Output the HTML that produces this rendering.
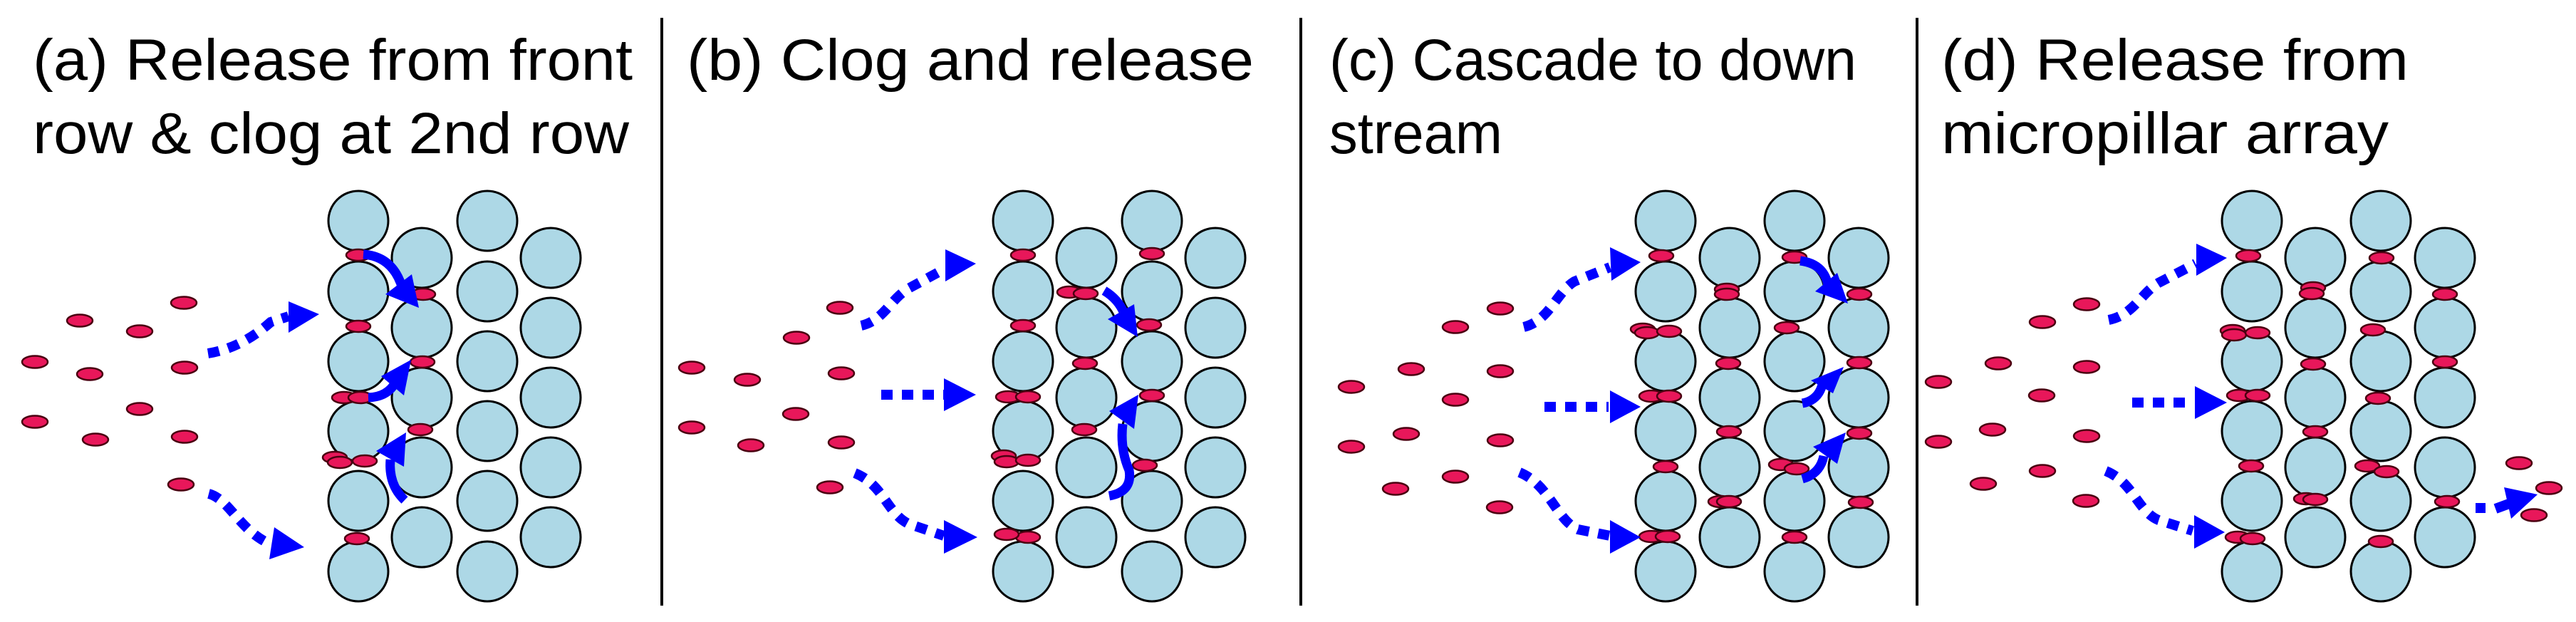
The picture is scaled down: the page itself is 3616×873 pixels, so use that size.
<!DOCTYPE html>
<html><head><meta charset="utf-8"><style>
html,body{margin:0;padding:0;background:#fff;}
svg{display:block;}
.t{font-family:"Liberation Sans",Arial,sans-serif;font-size:82px;fill:#000;}
.c{fill:#add8e6;stroke:#000;stroke-width:3;}
.p{fill:#e8175a;stroke:#4a0010;stroke-width:2.5;}
.d{fill:none;stroke:#0000ff;stroke-width:14;stroke-dasharray:16 13;}
.s{fill:none;stroke:#0000ff;stroke-width:13;}
.h{fill:#0000ff;}
</style></head><body>
<svg width="3616" height="873" viewBox="0 0 3616 873" xmlns="http://www.w3.org/2000/svg">
<rect width="3616" height="873" fill="#fff"/>
<text class="t" x="46" y="112" textLength="842" lengthAdjust="spacingAndGlyphs">(a) Release from front</text>
<text class="t" x="46" y="215" textLength="837" lengthAdjust="spacingAndGlyphs">row &amp; clog at 2nd row</text>
<text class="t" x="964" y="112" textLength="796" lengthAdjust="spacingAndGlyphs">(b) Clog and release</text>
<text class="t" x="1866" y="112" textLength="740" lengthAdjust="spacingAndGlyphs">(c) Cascade to down</text>
<text class="t" x="1866" y="215" textLength="243" lengthAdjust="spacingAndGlyphs">stream</text>
<text class="t" x="2725" y="112" textLength="656" lengthAdjust="spacingAndGlyphs">(d) Release from</text>
<text class="t" x="2725" y="215" textLength="628" lengthAdjust="spacingAndGlyphs">micropillar array</text>
<rect x="927" y="25" width="4" height="825" fill="#000"/>
<rect x="1824" y="25" width="4" height="825" fill="#000"/>
<rect x="2689" y="25" width="4" height="825" fill="#000"/>

<g class="c">
<circle cx="503" cy="310" r="42"/><circle cx="503" cy="409" r="42"/><circle cx="503" cy="507" r="42"/><circle cx="503" cy="605" r="42"/><circle cx="503" cy="703" r="42"/><circle cx="503" cy="802" r="42"/>
<circle cx="592" cy="362" r="42"/><circle cx="592" cy="460" r="42"/><circle cx="592" cy="558" r="42"/><circle cx="592" cy="656" r="42"/><circle cx="592" cy="754" r="42"/>
<circle cx="684" cy="310" r="42"/><circle cx="684" cy="409" r="42"/><circle cx="684" cy="507" r="42"/><circle cx="684" cy="605" r="42"/><circle cx="684" cy="703" r="42"/><circle cx="684" cy="802" r="42"/>
<circle cx="773" cy="362" r="42"/><circle cx="773" cy="460" r="42"/><circle cx="773" cy="558" r="42"/><circle cx="773" cy="656" r="42"/><circle cx="773" cy="754" r="42"/>
</g>
<g class="c">
<circle cx="1436" cy="310" r="42"/><circle cx="1436" cy="409" r="42"/><circle cx="1436" cy="507" r="42"/><circle cx="1436" cy="605" r="42"/><circle cx="1436" cy="703" r="42"/><circle cx="1436" cy="802" r="42"/>
<circle cx="1525" cy="362" r="42"/><circle cx="1525" cy="460" r="42"/><circle cx="1525" cy="558" r="42"/><circle cx="1525" cy="656" r="42"/><circle cx="1525" cy="754" r="42"/>
<circle cx="1617" cy="310" r="42"/><circle cx="1617" cy="409" r="42"/><circle cx="1617" cy="507" r="42"/><circle cx="1617" cy="605" r="42"/><circle cx="1617" cy="703" r="42"/><circle cx="1617" cy="802" r="42"/>
<circle cx="1706" cy="362" r="42"/><circle cx="1706" cy="460" r="42"/><circle cx="1706" cy="558" r="42"/><circle cx="1706" cy="656" r="42"/><circle cx="1706" cy="754" r="42"/>
</g>
<g class="c">
<circle cx="2338" cy="310" r="42"/><circle cx="2338" cy="409" r="42"/><circle cx="2338" cy="507" r="42"/><circle cx="2338" cy="605" r="42"/><circle cx="2338" cy="703" r="42"/><circle cx="2338" cy="802" r="42"/>
<circle cx="2428" cy="362" r="42"/><circle cx="2428" cy="460" r="42"/><circle cx="2428" cy="558" r="42"/><circle cx="2428" cy="656" r="42"/><circle cx="2428" cy="754" r="42"/>
<circle cx="2519" cy="310" r="42"/><circle cx="2519" cy="409" r="42"/><circle cx="2519" cy="507" r="42"/><circle cx="2519" cy="605" r="42"/><circle cx="2519" cy="703" r="42"/><circle cx="2519" cy="802" r="42"/>
<circle cx="2609" cy="362" r="42"/><circle cx="2609" cy="460" r="42"/><circle cx="2609" cy="558" r="42"/><circle cx="2609" cy="656" r="42"/><circle cx="2609" cy="754" r="42"/>
</g>
<g class="c">
<circle cx="3161" cy="310" r="42"/><circle cx="3161" cy="409" r="42"/><circle cx="3161" cy="507" r="42"/><circle cx="3161" cy="605" r="42"/><circle cx="3161" cy="703" r="42"/><circle cx="3161" cy="802" r="42"/>
<circle cx="3250" cy="362" r="42"/><circle cx="3250" cy="460" r="42"/><circle cx="3250" cy="558" r="42"/><circle cx="3250" cy="656" r="42"/><circle cx="3250" cy="754" r="42"/>
<circle cx="3342" cy="310" r="42"/><circle cx="3342" cy="409" r="42"/><circle cx="3342" cy="507" r="42"/><circle cx="3342" cy="605" r="42"/><circle cx="3342" cy="703" r="42"/><circle cx="3342" cy="802" r="42"/>
<circle cx="3432" cy="362" r="42"/><circle cx="3432" cy="460" r="42"/><circle cx="3432" cy="558" r="42"/><circle cx="3432" cy="656" r="42"/><circle cx="3432" cy="754" r="42"/>
</g>

<g class="p">
<ellipse cx="258" cy="425" rx="18" ry="8.5"/><ellipse cx="112" cy="450" rx="18" ry="8.5"/><ellipse cx="196" cy="465" rx="18" ry="8.5"/>
<ellipse cx="49" cy="508" rx="18" ry="8.5"/><ellipse cx="126" cy="525" rx="18" ry="8.5"/><ellipse cx="259" cy="516" rx="18" ry="8.5"/>
<ellipse cx="196" cy="574" rx="18" ry="8.5"/><ellipse cx="49" cy="592" rx="18" ry="8.5"/><ellipse cx="134" cy="617" rx="18" ry="8.5"/>
<ellipse cx="259" cy="613" rx="18" ry="8.5"/><ellipse cx="254" cy="680" rx="18" ry="8.5"/>
<ellipse cx="503" cy="358" rx="17" ry="8"/><ellipse cx="594" cy="413" rx="17" ry="8"/><ellipse cx="503" cy="458" rx="17" ry="8"/>
<ellipse cx="593" cy="508" rx="17" ry="8"/><ellipse cx="483" cy="558" rx="17" ry="8"/><ellipse cx="506" cy="558" rx="17" ry="8"/>
<ellipse cx="590" cy="603" rx="17" ry="8"/><ellipse cx="470" cy="642" rx="17" ry="8"/><ellipse cx="477" cy="649" rx="17" ry="8"/>
<ellipse cx="512" cy="647" rx="17" ry="8"/><ellipse cx="501" cy="756" rx="17" ry="8"/>
<ellipse cx="1179" cy="432" rx="18" ry="8.5"/><ellipse cx="1118" cy="474" rx="18" ry="8.5"/><ellipse cx="971" cy="516" rx="18" ry="8.5"/>
<ellipse cx="1049" cy="533" rx="18" ry="8.5"/><ellipse cx="1181" cy="524" rx="18" ry="8.5"/><ellipse cx="1117" cy="581" rx="18" ry="8.5"/>
<ellipse cx="971" cy="600" rx="18" ry="8.5"/><ellipse cx="1054" cy="625" rx="18" ry="8.5"/><ellipse cx="1181" cy="621" rx="18" ry="8.5"/>
<ellipse cx="1165" cy="684" rx="18" ry="8.5"/>
<ellipse cx="1436" cy="358" rx="17" ry="8"/><ellipse cx="1436" cy="457" rx="17" ry="8"/>
<ellipse cx="1415" cy="557" rx="17" ry="8"/><ellipse cx="1443" cy="557" rx="17" ry="8"/>
<ellipse cx="1409" cy="640" rx="17" ry="8"/><ellipse cx="1413" cy="648" rx="17" ry="8"/><ellipse cx="1443" cy="646" rx="17" ry="8"/>
<ellipse cx="1443" cy="754" rx="17" ry="8"/><ellipse cx="1413" cy="750" rx="17" ry="8"/>
<ellipse cx="1501" cy="410" rx="17" ry="8"/><ellipse cx="1524" cy="412" rx="17" ry="8"/>
<ellipse cx="1523" cy="510" rx="17" ry="8"/><ellipse cx="1522" cy="603" rx="17" ry="8"/>
<ellipse cx="1617" cy="356" rx="17" ry="8"/><ellipse cx="1613" cy="456" rx="17" ry="8"/><ellipse cx="1617" cy="555" rx="17" ry="8"/><ellipse cx="1607" cy="653" rx="17" ry="8"/>
<ellipse cx="2106" cy="433" rx="18" ry="8.5"/><ellipse cx="2043" cy="459" rx="18" ry="8.5"/><ellipse cx="1981" cy="518" rx="18" ry="8.5"/>
<ellipse cx="1897" cy="543" rx="18" ry="8.5"/><ellipse cx="2106" cy="521" rx="18" ry="8.5"/><ellipse cx="2043" cy="561" rx="18" ry="8.5"/>
<ellipse cx="1974" cy="609" rx="18" ry="8.5"/><ellipse cx="1897" cy="627" rx="18" ry="8.5"/><ellipse cx="2106" cy="618" rx="18" ry="8.5"/>
<ellipse cx="2043" cy="669" rx="18" ry="8.5"/><ellipse cx="1959" cy="686" rx="18" ry="8.5"/><ellipse cx="2105" cy="712" rx="18" ry="8.5"/>
<ellipse cx="2332" cy="359" rx="17" ry="8"/>
<ellipse cx="2306" cy="462" rx="17" ry="8"/><ellipse cx="2312" cy="467" rx="17" ry="8"/><ellipse cx="2343" cy="465" rx="17" ry="8"/>
<ellipse cx="2318" cy="556" rx="17" ry="8"/><ellipse cx="2343" cy="556" rx="17" ry="8"/>
<ellipse cx="2338" cy="655" rx="17" ry="8"/>
<ellipse cx="2318" cy="753" rx="17" ry="8"/><ellipse cx="2341" cy="753" rx="17" ry="8"/>
<ellipse cx="2424" cy="406" rx="17" ry="8"/><ellipse cx="2424" cy="413" rx="17" ry="8"/>
<ellipse cx="2426" cy="510" rx="17" ry="8"/><ellipse cx="2427" cy="606" rx="17" ry="8"/>
<ellipse cx="2415" cy="704" rx="17" ry="8"/><ellipse cx="2427" cy="704" rx="17" ry="8"/>
<ellipse cx="2519" cy="361" rx="17" ry="8"/><ellipse cx="2508" cy="460" rx="17" ry="8"/>
<ellipse cx="2500" cy="652" rx="17" ry="8"/><ellipse cx="2522" cy="658" rx="17" ry="8"/><ellipse cx="2519" cy="754" rx="17" ry="8"/>
<ellipse cx="2610" cy="413" rx="17" ry="8"/><ellipse cx="2610" cy="509" rx="17" ry="8"/><ellipse cx="2610" cy="608" rx="17" ry="8"/><ellipse cx="2612" cy="705" rx="17" ry="8"/>
<ellipse cx="2929" cy="427" rx="18" ry="8.5"/><ellipse cx="2867" cy="452" rx="18" ry="8.5"/><ellipse cx="2805" cy="510" rx="18" ry="8.5"/>
<ellipse cx="2721" cy="536" rx="18" ry="8.5"/><ellipse cx="2929" cy="515" rx="18" ry="8.5"/><ellipse cx="2866" cy="555" rx="18" ry="8.5"/>
<ellipse cx="2797" cy="603" rx="18" ry="8.5"/><ellipse cx="2721" cy="620" rx="18" ry="8.5"/><ellipse cx="2929" cy="612" rx="18" ry="8.5"/>
<ellipse cx="2867" cy="661" rx="18" ry="8.5"/><ellipse cx="2784" cy="679" rx="18" ry="8.5"/><ellipse cx="2928" cy="703" rx="18" ry="8.5"/>
<ellipse cx="3156" cy="359" rx="17" ry="8"/>
<ellipse cx="3134" cy="464" rx="17" ry="8"/><ellipse cx="3136" cy="470" rx="17" ry="8"/><ellipse cx="3169" cy="467" rx="17" ry="8"/>
<ellipse cx="3143" cy="555" rx="17" ry="8"/><ellipse cx="3169" cy="555" rx="17" ry="8"/>
<ellipse cx="3160" cy="654" rx="17" ry="8"/>
<ellipse cx="3141" cy="754" rx="17" ry="8"/><ellipse cx="3162" cy="756" rx="17" ry="8"/>
<ellipse cx="3247" cy="404" rx="17" ry="8"/><ellipse cx="3245" cy="412" rx="17" ry="8"/>
<ellipse cx="3247" cy="511" rx="17" ry="8"/><ellipse cx="3250" cy="606" rx="17" ry="8"/>
<ellipse cx="3237" cy="700" rx="17" ry="8"/><ellipse cx="3250" cy="701" rx="17" ry="8"/>
<ellipse cx="3343" cy="362" rx="17" ry="8"/><ellipse cx="3331" cy="463" rx="17" ry="8"/><ellipse cx="3338" cy="559" rx="17" ry="8"/>
<ellipse cx="3323" cy="654" rx="17" ry="8"/><ellipse cx="3350" cy="662" rx="17" ry="8"/><ellipse cx="3342" cy="760" rx="17" ry="8"/>
<ellipse cx="3432" cy="413" rx="17" ry="8"/><ellipse cx="3432" cy="508" rx="17" ry="8"/><ellipse cx="3435" cy="704" rx="17" ry="8"/>
<ellipse cx="3536" cy="650" rx="18" ry="8.5"/><ellipse cx="3578" cy="685" rx="18" ry="8.5"/><ellipse cx="3557" cy="723" rx="18" ry="8.5"/>
</g>

<path class="d" d="M292,496 C330,490 360,470 380,452 L405,444"/>
<polygon class="h" points="405,423 448,441 405,467"/>
<path class="d" d="M293,693 C320,700 335,740 372,760 L382,762"/>
<polygon class="h" points="385,740 427,768 378,785"/>

<path class="d" d="M1209,457 C1240,450 1250,420 1275,405 L1325,378"/>
<polygon class="h" points="1327,350 1370,370 1327,395"/>
<path class="d" d="M1237,554 L1325,554"/>
<polygon class="h" points="1325,531 1370,554 1325,577"/>
<path class="d" d="M1200,664 C1240,680 1245,720 1275,735 L1325,752"/>
<polygon class="h" points="1325,730 1372,754 1325,777"/>

<path class="d" d="M2139,459 C2175,450 2185,410 2210,395 L2260,375"/>
<polygon class="h" points="2260,347 2303,368 2262,394"/>
<path class="d" d="M2168,571 L2258,571"/>
<polygon class="h" points="2260,548 2303,571 2260,594"/>
<path class="d" d="M2133,663 C2175,680 2185,730 2215,743 L2260,752"/>
<polygon class="h" points="2260,730 2303,754 2260,777"/>

<path class="d" d="M2960,449 C2995,442 3005,412 3030,397 L3082,370"/>
<polygon class="h" points="3083,342 3126,362 3083,387"/>
<path class="d" d="M2993,565 L3080,565"/>
<polygon class="h" points="3081,542 3126,565 3081,588"/>
<path class="d" d="M2956,661 C2995,677 3000,717 3030,730 L3078,745"/>
<polygon class="h" points="3080,723 3123,747 3080,770"/>

<rect class="h" x="3475" y="706" width="14" height="14"/>
<path class="s" d="M3503,714 L3522,707" style="stroke-width:14"/>
<polygon class="h" points="3515,684 3562,694 3525,728"/>

<path class="s" d="M510,357 Q552,360 565,405"/>
<polygon class="h" points="541,413 588,432 578,385"/>
<path class="s" d="M517,558 Q545,557 556,535"/>
<polygon class="h" points="535,528 577,505 567,555"/>
<path class="s" d="M568,702 Q545,680 548,645"/>
<polygon class="h" points="528,633 570,607 567,655"/>

<path class="s" d="M1550,408 Q1570,420 1578,440"/>
<polygon class="h" points="1555,448 1597,473 1592,427"/>
<path class="s" d="M1557,696 Q1590,690 1585,660 Q1572,630 1576,595"/>
<polygon class="h" points="1557,577 1598,554 1592,602"/>

<path class="s" d="M2527,366 Q2560,370 2566,400"/>
<polygon class="h" points="2548,409 2594,426 2579,383"/>
<path class="s" d="M2530,566 Q2552,562 2558,540"/>
<polygon class="h" points="2542,534 2588,515 2573,552"/>
<path class="s" d="M2530,672 Q2555,665 2560,640"/>
<polygon class="h" points="2545,627 2591,607 2579,651"/>
</svg>
</body></html>
